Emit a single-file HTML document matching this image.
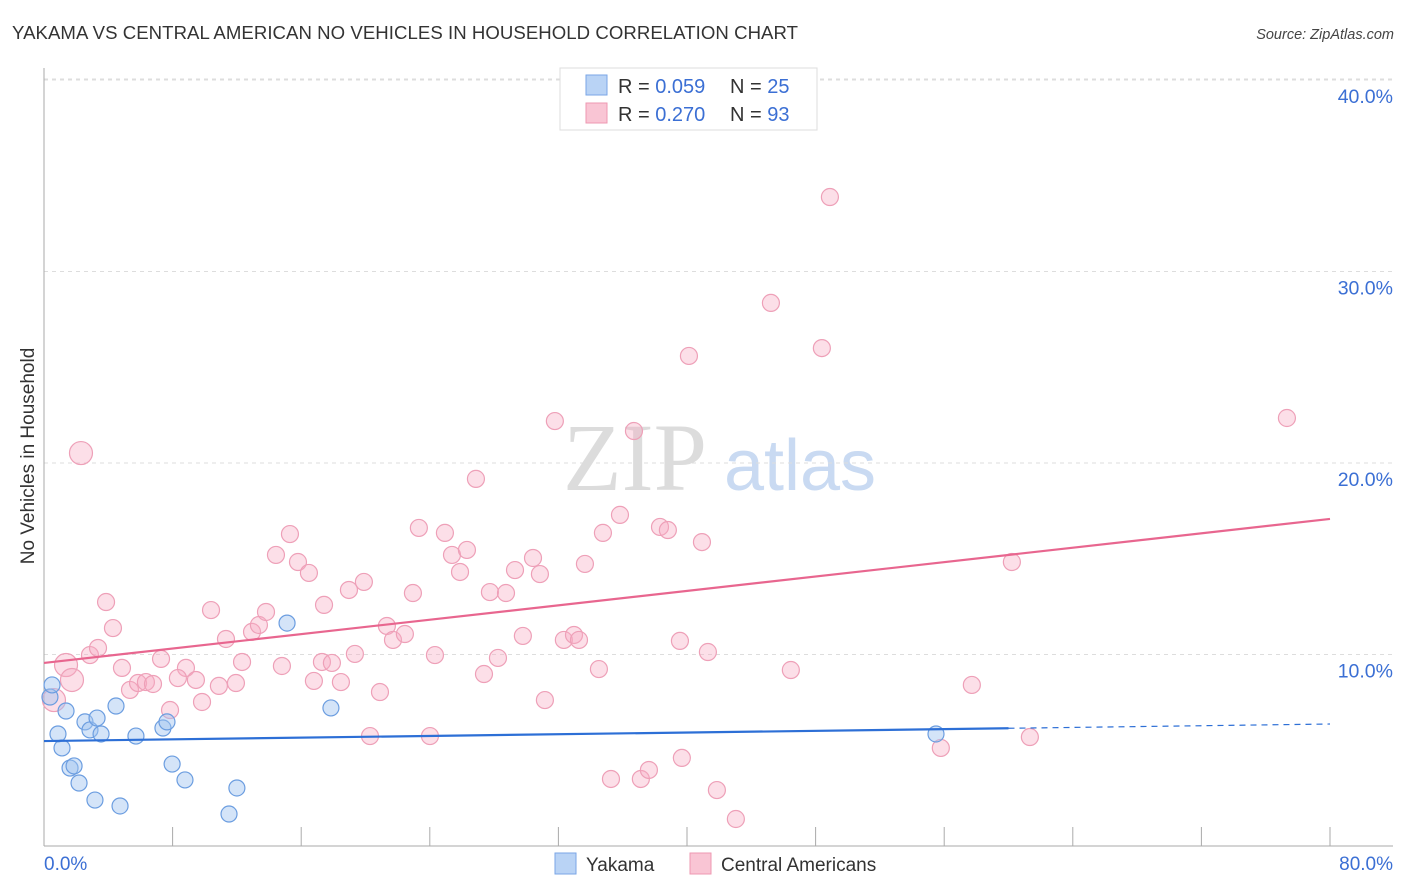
<!DOCTYPE html>
<html><head><meta charset="utf-8"><style>
body{margin:0;background:#fff;font-family:"Liberation Sans",sans-serif;}
svg{display:block}
</style></head><body>
<svg id="chart" width="1406" height="892" xmlns="http://www.w3.org/2000/svg">
<text x="12" y="39" font-size="18.6" fill="#333" textLength="786">YAKAMA VS CENTRAL AMERICAN NO VEHICLES IN HOUSEHOLD CORRELATION CHART</text>
<text x="1394" y="39" font-size="14.5" fill="#444" font-style="italic" text-anchor="end">Source: ZipAtlas.com</text>
<text x="635" y="490" font-size="96" fill="#dcdcdc" font-family="Liberation Serif,serif" text-anchor="middle">ZIP</text>
<text x="800" y="490" font-size="72" fill="#c9daf2" text-anchor="middle">atlas</text>
<g id="grid"></g>
<g id="axes"></g>
<g id="pts"></g>
<g id="trend"></g>
<text x="34" y="456" font-size="19" fill="#333" text-anchor="middle" transform="rotate(-90 34 456)">No Vehicles in Household</text>
<text x="44" y="870" font-size="19" fill="#3b6fd4">0.0%</text>
<text x="1393" y="870" font-size="19" fill="#3b6fd4" text-anchor="end">80.0%</text>
<g>
<rect x="560" y="68" width="257" height="62" fill="#fff" stroke="#ddd"/>
<rect x="586" y="75" width="21" height="20" fill="#b9d3f5" stroke="#7aa6e6"/>
<rect x="586" y="103" width="21" height="20" fill="#f9c5d4" stroke="#ee98b2"/>
<text x="618" y="93" font-size="20" fill="#333">R = <tspan fill="#3b6fd4">0.059</tspan><tspan x="730">N = </tspan><tspan fill="#3b6fd4">25</tspan></text>
<text x="618" y="121" font-size="20" fill="#333">R = <tspan fill="#3b6fd4">0.270</tspan><tspan x="730">N = </tspan><tspan fill="#3b6fd4">93</tspan></text>
</g>
<g>
<rect x="555" y="853" width="21" height="21" fill="#b9d3f5" stroke="#7aa6e6"/>
<text x="586" y="871" font-size="19" fill="#333">Yakama</text>
<rect x="690" y="853" width="21" height="21" fill="#f9c5d4" stroke="#ee98b2"/>
<text x="721" y="871" font-size="19" fill="#333">Central Americans</text>
</g>
</svg>
<script>
const yTicks=[10,20,30,40];
const yTickLabels=["10.0%","20.0%","30.0%","40.0%"];
const xTicks=[0,8,16,24,32,40,48,56,64,72,80];
const blueX=[0.37,0.5,0.87,1.12,1.37,1.62,1.87,2.18,2.55,2.86,3.17,3.3,3.55,4.48,4.73,5.72,7.4,7.65,7.97,8.77,11.51,12.0,15.12,17.85,55.49];
const blueY=[7.78,8.41,5.85,5.12,7.05,4.07,4.18,3.29,6.48,6.06,2.4,6.68,5.85,7.31,2.09,5.74,6.16,6.48,4.28,3.45,1.67,3.03,11.64,7.21,5.85];
const pinkX=[2.3,0.62,1.37,1.74,2.86,3.36,3.86,4.29,4.85,5.35,5.85,6.34,6.78,7.28,7.84,8.83,8.33,9.45,9.83,10.39,10.88,11.32,11.94,12.32,12.94,13.37,13.81,14.43,14.8,15.3,15.8,16.48,16.79,17.29,17.42,17.91,18.47,18.97,19.34,19.9,20.28,20.9,21.33,21.71,22.45,22.95,23.32,24.01,24.32,24.94,25.38,25.88,26.31,26.87,27.37,27.74,28.24,28.74,29.3,29.79,30.42,30.85,31.16,31.78,32.34,32.97,33.28,33.65,34.52,34.77,35.27,35.83,36.7,37.13,37.63,38.32,38.81,39.56,39.68,40.12,40.93,41.3,41.86,43.04,45.22,46.46,48.39,48.89,55.79,57.72,60.21,61.33,77.32];
const pinkY=[20.52,7.62,9.45,8.67,9.97,10.34,12.74,11.38,9.3,8.15,8.51,8.56,8.46,9.77,7.1,9.3,8.77,8.67,7.52,12.32,8.36,10.81,8.51,9.61,11.18,11.54,12.22,15.2,9.4,16.29,14.83,14.26,8.62,9.61,12.59,9.56,8.56,13.37,10.03,13.79,5.74,8.04,11.49,10.76,11.07,13.21,16.61,5.74,9.97,16.35,15.2,14.31,15.46,19.17,8.98,13.26,9.82,13.21,14.41,10.97,15.04,14.2,7.62,22.19,10.76,11.02,10.76,14.73,9.24,16.35,3.5,17.29,21.67,3.5,3.97,16.66,16.5,10.71,4.6,25.59,15.87,10.13,2.92,1.41,28.36,9.19,26.0,33.89,5.12,8.41,14.83,5.69,22.35];
const pinkBig=[0,1,2,3];
const blueTrend=[5.48,6.37];
const blueSolidEnd=60;
const pinkTrend=[9.56,17.08];
const NS="http://www.w3.org/2000/svg";
const X=v=>44+v*16.075, Y=v=>846-v*19.15;
function mk(p,t,a){const e=document.createElementNS(NS,t);for(const k in a)e.setAttribute(k,a[k]);document.getElementById(p).appendChild(e);return e;}
yTicks.forEach((t,i)=>{
 const l=mk('grid','line',{x1:44,x2:1393,y1:Y(t),y2:Y(t),stroke:'#ddd','stroke-dasharray':'4,4'});
 
 
 const tx=mk('grid','text',{x:1393,y:Y(t)+23,'font-size':19.5,fill:'#3b6fd4','text-anchor':'end'});
 tx.textContent=yTickLabels[i];
 
 
});
const topLine=mk('grid','line',{x1:44,x2:1393,y1:79,y2:79,stroke:'#ddd','stroke-dasharray':'4,4'});


const ya=mk('axes','line',{x1:44,x2:44,y1:68,y2:846,stroke:'#aaa'});


const xa=mk('axes','line',{x1:44,x2:1393,y1:846,y2:846,stroke:'#aaa'});


xTicks.forEach(t=>{
 const l=mk('axes','line',{x1:X(t),x2:X(t),y1:827,y2:846,stroke:'#aaa'});
 
 
});
pinkX.forEach((v,i)=>{
 const c=mk('pts','circle',{cx:X(v),cy:Y(pinkY[i]),r:pinkBig.includes(i)?11.5:8.5,fill:'rgba(246,170,195,0.38)',stroke:'#eea0b8','stroke-width':1.2});
 
 
});
blueX.forEach((v,i)=>{
 const c=mk('pts','circle',{cx:X(v),cy:Y(blueY[i]),r:8,fill:'rgba(160,195,240,0.45)',stroke:'#6b9de0','stroke-width':1.2});
 
 
});
const by=x=>blueTrend[0]+(blueTrend[1]-blueTrend[0])*x/80;
const b1=mk('trend','line',{x1:X(0),y1:Y(by(0)),x2:X(blueSolidEnd),y2:Y(by(blueSolidEnd)),stroke:'#2d6fd6','stroke-width':2.2});


const b2=mk('trend','line',{x1:X(blueSolidEnd),y1:Y(by(blueSolidEnd)),x2:X(80),y2:Y(by(80)),stroke:'#2d6fd6','stroke-width':1.2,'stroke-dasharray':'6,5'});


const pl=mk('trend','line',{x1:X(0),y1:Y(pinkTrend[0]),x2:X(80),y2:Y(pinkTrend[1]),stroke:'#e8668f','stroke-width':2.2});


</script>
</body></html>
